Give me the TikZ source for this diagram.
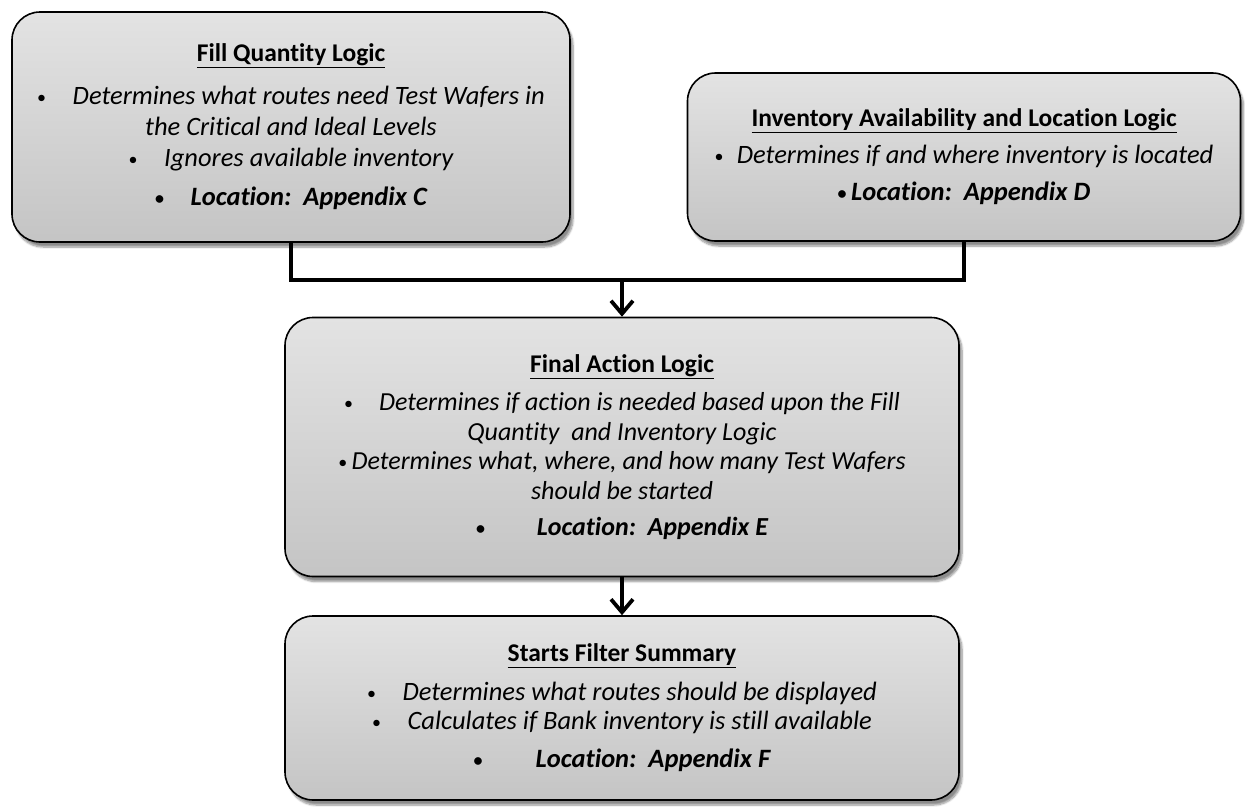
\documentclass[tikz,border=0pt]{standalone}
\usepackage{fontspec}
\setmainfont{Carlito}[Ligatures=NoCommon]
\usetikzlibrary{arrows.meta,shadows.blur}

\tikzset{
  panel/.style={
    draw=black, line width=1.6pt, rounded corners=28pt,
    top color=gray!22, bottom color=gray!46,
    align=center, inner sep=0pt,
    font=\fontsize{26.5}{31}\selectfont\itshape,
    blur shadow={shadow xshift=3pt, shadow yshift=-5pt,
                 shadow blur steps=8, shadow opacity=45}
  },
  tight/.style={font=\fontsize{26}{29.5}\selectfont\itshape},
  link/.style={line width=3.6pt, draw=black},
  flow/.style={link, -{Straight Barb[length=13pt,width=22pt,line width=3.8pt]}}
}
\newcommand{\paneltitle}[1]{{\fontsize{25.5}{30}\selectfont\upshape\bfseries\underline{#1}}}
\newcommand{\pt}{{\upshape\fontsize{18}{18}\selectfont\raisebox{1.5pt}{\textbullet}}}

\begin{document}
\begin{tikzpicture}[x=1pt,y=-1pt]
  \useasboundingbox (0,0) rectangle (1245,809);

  \node[panel, minimum width=558pt, minimum height=230pt] (fill) at (291,127) {%
    \paneltitle{Fill Quantity Logic}\\[12pt]
    \pt\quad Determines what routes need Test Wafers in\\
    the Critical and Ideal Levels\\
    \pt\quad Ignores available inventory\\[8pt]
    \textbf{\pt\quad Location:\ \ Appendix C}};

  \node[panel, minimum width=553pt, minimum height=168pt] (inv) at (964,157) {%
    \paneltitle{Inventory Availability and Location Logic}\\[6pt]
    \pt\enspace Determines if and where inventory is located\\[6pt]
    \textbf{\pt\,Location:\ \ Appendix D}};

  \node[panel, tight, minimum width=674pt, minimum height=259pt] (act) at (622,447) {%
    \paneltitle{Final Action Logic}\\[9pt]
    \pt\quad Determines if action is needed based upon the Fill\\
    Quantity\ \ and Inventory Logic\\
    \pt\,Determines what, where, and how many Test Wafers\\
    should be started\\[7pt]
    \textbf{\pt\qquad Location:\ \ Appendix E}};

  \node[panel, minimum width=674pt, minimum height=184pt] (sum) at (622,708) {%
    \paneltitle{Starts Filter Summary}\\[8pt]
    \pt\quad Determines what routes should be displayed\\[-2pt]
    \pt\quad Calculates if Bank inventory is still available\\[7pt]
    \textbf{\pt\qquad Location:\ \ Appendix F}};

  % merge of the two upper panels
  \coordinate (join) at (622,280);
  \draw[link] (fill.south) |- (join) -| (inv.south);
  \draw[flow] (join) -- (act.north);
  \draw[flow] (act.south) -- (sum.north);
\end{tikzpicture}
\end{document}
